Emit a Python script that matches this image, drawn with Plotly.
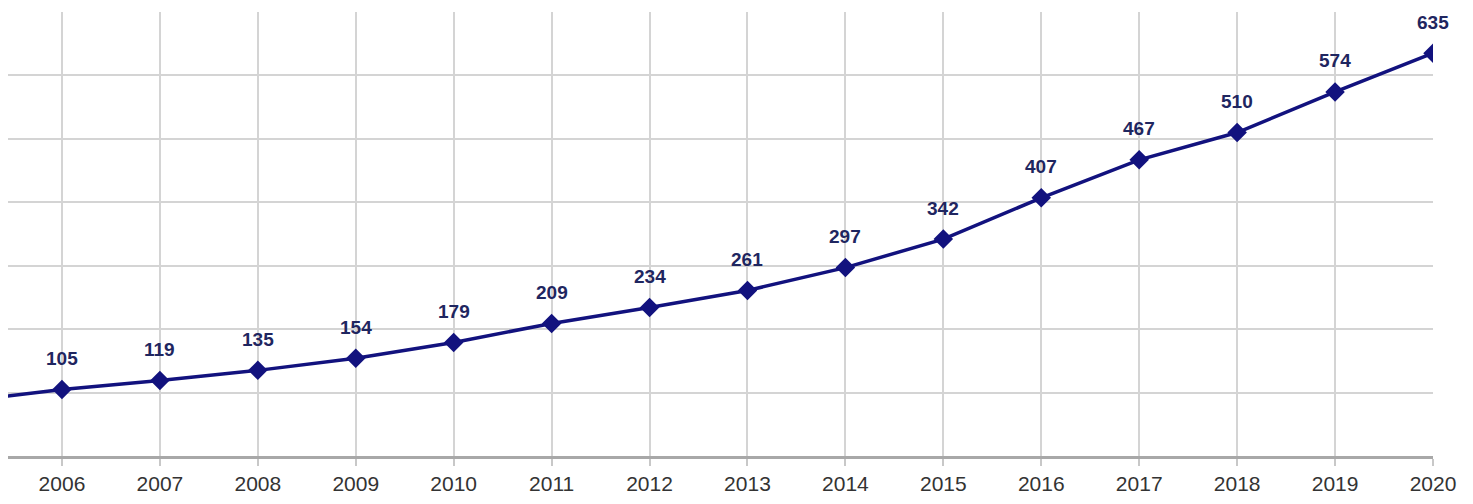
import plotly.graph_objects as go

years = [2005, 2006, 2007, 2008, 2009, 2010, 2011, 2012, 2013, 2014, 2015, 2016, 2017, 2018, 2019, 2020]
values = [86, 105, 119, 135, 154, 179, 209, 234, 261, 297, 342, 407, 467, 510, 574, 635]
tick_years = list(range(2006, 2021))
tick_labels = [str(y) for y in tick_years]

navy = "#12127e"

fig = go.Figure()
fig.add_trace(go.Scatter(
    x=years, y=values, mode="lines+markers",
    line=dict(color=navy, width=3.5),
    marker=dict(symbol="diamond", size=15, color=navy),
    cliponaxis=True,
    hoverinfo="skip",
))

for yr, v in zip(years, values):
    if yr < 2006:
        continue
    fig.add_annotation(x=yr, y=v, text="<b>%d</b>" % v, showarrow=False, yshift=31,
                       font=dict(family="Arial, Liberation Sans", size=19, color="#1f2660"))

fig.update_layout(
    width=1465, height=496,
    margin=dict(l=0, r=40, t=4, b=48),
    paper_bgcolor="white", plot_bgcolor="white",
    showlegend=False,
    xaxis=dict(range=[2005.449, 2020], tickvals=tick_years, ticktext=tick_labels,
               showgrid=True, gridcolor="#d4d4d4", gridwidth=2,
               ticks="outside", ticklen=7, tickcolor="#c8c8c8", tickwidth=2,
               showline=True, linecolor="#a8a8a8", linewidth=3,
               tickfont=dict(family="Arial, Liberation Sans", size=21, color="#333333"),
               zeroline=False),
    yaxis=dict(range=[0, 700], dtick=100, showticklabels=False,
               showgrid=True, gridcolor="#d4d4d4", gridwidth=2,
               zeroline=False, showline=False),
)

fig.write_html("out.html")
